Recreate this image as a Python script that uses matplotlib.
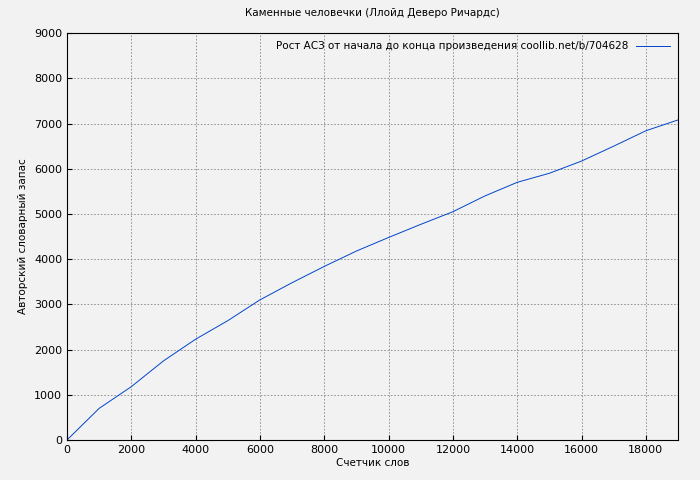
import matplotlib
matplotlib.use("Agg")
import matplotlib.pyplot as plt

words = [0, 1000, 2000, 3000, 4000, 5000, 6000, 7000, 8000, 9000, 10000,
         11000, 12000, 13000, 14000, 15000, 16000, 17000, 18000, 19000]
vocab = [0, 700, 1180, 1750, 2230, 2640, 3100, 3480, 3840, 4180, 4480,
         4770, 5050, 5400, 5700, 5900, 6170, 6500, 6840, 7080]

fig = plt.figure(figsize=(7, 4.8), dpi=100, facecolor="#f2f2f2")
ax = fig.add_axes([0.0957, 0.0833, 0.8729, 0.8477])
ax.set_facecolor("#f2f2f2")
ax.plot(words, vocab, color="#0044cc", lw=0.7,
        label="Рост АСЗ от начала до конца произведения coollib.net/b/704628")
ax.set_xlim(0, 19000)
ax.set_ylim(0, 9000)
ax.set_xticks(range(0, 19000, 2000))
ax.set_yticks(range(0, 9001, 1000))
ax.grid(True, color="#888888", linestyle=(0, (2, 2)), lw=0.6)
ax.tick_params(labelsize=8, direction="in")
ax.set_xlabel("Счетчик слов", fontsize=7.5, labelpad=2)
ax.set_ylabel("Авторский словарный запас", fontsize=7.5)
ax.set_title("Каменные человечки (Ллойд Деверо Ричардс)", fontsize=7.5, pad=12)
ax.legend(loc="upper right", fontsize=7.5, frameon=False, markerfirst=False,
          handlelength=3.2, borderaxespad=0.2, borderpad=0.6)
fig.savefig("out.png", dpi=100, facecolor=fig.get_facecolor())
